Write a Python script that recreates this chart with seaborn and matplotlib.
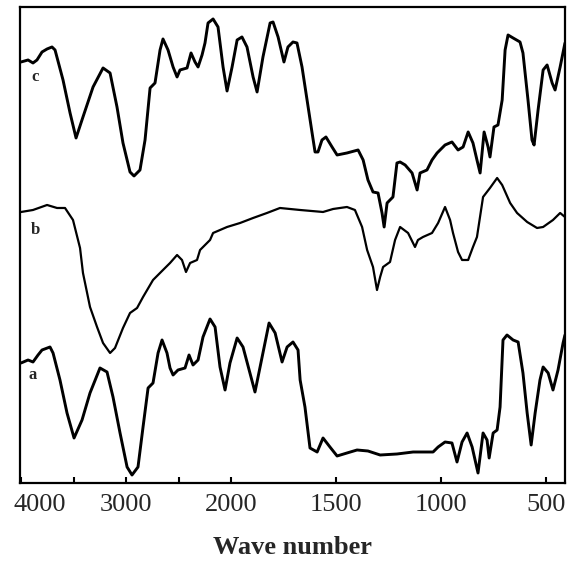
import numpy as np
import pandas as pd
import matplotlib
matplotlib.use('Agg')
import matplotlib.pyplot as plt
import matplotlib.transforms as mtransforms
import seaborn as sns

# FTIR spectra (wave number, transmittance in a.u.)
wn_c = [4000, 3933, 3886, 3848, 3800, 3752, 3705, 3676, 3600, 3533, 3476, 3410, 3314, 3219,
        3152, 3086, 3029, 2962, 2924, 2867, 2819, 2771, 2724, 2676, 2648, 2600, 2552, 2514,
        2486, 2419, 2381, 2343, 2314, 2276, 2248, 2219, 2171, 2124, 2076, 2038, 1995, 1971,
        1948, 1924, 1895, 1876, 1848, 1814, 1800, 1776, 1748, 1729, 1705, 1686, 1662, 1638,
        1614, 1600, 1586, 1567, 1548, 1519, 1495, 1448, 1395, 1371, 1348, 1324, 1300, 1281,
        1271, 1257, 1229, 1210, 1195, 1171, 1138, 1114, 1100, 1067, 1043, 1019, 981, 948,
        919, 895, 871, 848, 829, 814, 795, 776, 767, 748, 729, 709, 695, 681, 657, 624,
        610, 586, 567, 557, 538, 514, 495, 471, 457, 433, 410]
t_c = [421, 423, 420, 423, 431, 434, 436, 433, 403, 370, 345, 366, 396, 415,
       410, 376, 340, 311, 307, 313, 343, 395, 400, 433, 444, 433, 416, 406,
       413, 415, 430, 421, 416, 428, 440, 460, 464, 456, 416, 392, 416, 443,
       446, 436, 406, 391, 426, 460, 461, 446, 421, 436, 441, 440, 416, 383,
       350, 331, 331, 343, 346, 336, 328, 330, 333, 323, 303, 291, 290, 270,
       256, 280, 286, 320, 321, 318, 310, 293, 310, 313, 323, 330, 338, 341,
       333, 336, 351, 340, 323, 310, 351, 336, 326, 356, 358, 383, 433, 448, 445, 441,
       430, 383, 343, 338, 373, 413, 418, 400, 393, 416, 440]

wn_b = [4000, 3886, 3752, 3657, 3581, 3505, 3438, 3410, 3343, 3276, 3219, 3152, 3105, 3029,
        2962, 2895, 2838, 2743, 2648, 2581, 2514, 2467, 2429, 2390, 2324, 2295, 2200, 2171,
        2038, 1957, 1895, 1829, 1767, 1671, 1562, 1514, 1448, 1410, 1376, 1352, 1324, 1305,
        1290, 1276, 1243, 1219, 1195, 1157, 1124, 1110, 1086, 1043, 1014, 981, 957, 943,
        919, 900, 871, 848, 829, 800, 767, 733, 709, 671, 638, 590, 543, 514, 467, 433, 410]
t_b = [271, 273, 278, 275, 275, 263, 235, 210, 176, 156, 140, 130, 135, 155,
       170, 175, 186, 203, 213, 220, 228, 223, 211, 220, 223, 233, 243, 250,
       256, 260, 265, 270, 275, 273, 271, 274, 276, 273, 256, 233, 216, 193,
       206, 216, 221, 243, 256, 250, 236, 243, 246, 250, 260, 276, 263, 250,
       231, 223, 223, 236, 246, 286, 295, 305, 298, 280, 270, 261, 255, 256, 263, 270, 266]

wn_a = [4000, 3933, 3886, 3838, 3800, 3724, 3695, 3629, 3562, 3495, 3419, 3343, 3248, 3181,
        3124, 3057, 2990, 2943, 2886, 2838, 2790, 2743, 2695, 2657, 2610, 2581, 2552, 2505,
        2438, 2400, 2362, 2314, 2267, 2200, 2152, 2105, 2057, 2010, 1971, 1943, 1910, 1886,
        1852, 1819, 1790, 1757, 1733, 1705, 1681, 1671, 1648, 1624, 1590, 1562, 1529, 1495,
        1448, 1400, 1348, 1290, 1210, 1133, 1038, 1014, 981, 948, 924, 900, 876, 852,
        824, 800, 781, 771, 752, 733, 719, 705, 686, 657, 633, 610, 590, 571, 552, 529,
        514, 490, 467, 443, 419, 410]
t_a = [120, 123, 121, 128, 133, 136, 130, 103, 70, 45, 63, 90, 115, 111,
       86, 50, 16, 8, 16, 56, 95, 100, 130, 143, 130, 115, 108, 113,
       115, 128, 118, 123, 146, 164, 156, 116, 93, 120, 145, 136, 110, 91,
       126, 160, 150, 121, 136, 141, 133, 103, 76, 35, 31, 45, 36, 27,
       30, 33, 32, 28, 29, 31, 31, 36, 41, 40, 21, 41, 50, 36,
       10, 50, 43, 25, 50, 53, 76, 143, 148, 143, 141, 110, 70, 38, 70, 103,
       116, 110, 93, 113, 140, 148]

tick_pos = [4000, 3000, 2000, 1500, 1000, 500]
tick_lab = ['4000', '3000', '2000', '1500', '1000', '500']
minor_pos = [3500, 2500]

sns.set_style('white')
plt.rcParams['font.family'] = ['Liberation Serif', 'DejaVu Serif']

fig = plt.figure(figsize=(5.69, 5.63), dpi=100)
ax = fig.add_axes([0.0351, 0.1421, 0.9578, 0.8455])


def forward(x):
    x = np.asarray(x, dtype=float)
    return np.where(x <= 2000, 2 * x, x + 2000)


def inverse(y):
    y = np.asarray(y, dtype=float)
    return np.where(y <= 4000, y / 2, y - 2000)


ax.set_xscale('function', functions=(forward, inverse))

for wn, t, lw in [(wn_c, t_c, 2.1), (wn_b, t_b, 1.6), (wn_a, t_a, 2.1)]:
    sns.lineplot(x=wn, y=t, ax=ax, color='black', lw=lw, estimator=None, sort=False,
                 solid_joinstyle='round', solid_capstyle='round')

ax.text(3867, 406, 'c', fontsize=12, fontweight='bold', ha='center', va='center')
ax.text(3867, 253, 'b', fontsize=12, fontweight='bold', ha='center', va='center')
ax.text(3886, 108, 'a', fontsize=12, fontweight='bold', ha='center', va='center')

ax.set_xlim(4010, 410)
ax.set_ylim(0, 476)
ax.set_yticks([])
ax.set_xticks(tick_pos)
ax.set_xticklabels(tick_lab, fontsize=19)
ax.set_xticks(minor_pos, minor=True)
ax.tick_params(axis='x', which='both', direction='in', length=4, width=1.5, pad=8,
               bottom=True, top=False, color='black')
# 4000 label sits a little right of the frame edge in the original
lab0 = ax.get_xticklabels()[0]
lab0.set_transform(lab0.get_transform() +
                   mtransforms.ScaledTranslation(0.19, 0, fig.dpi_scale_trans))
ax.set_xlabel('Wave number', fontsize=19, fontweight='bold', labelpad=14)
ax.set_ylabel('')
for s in ax.spines.values():
    s.set_visible(True)
    s.set_color('black')
    s.set_linewidth(1.6)

fig.savefig('out.png', dpi=100)
